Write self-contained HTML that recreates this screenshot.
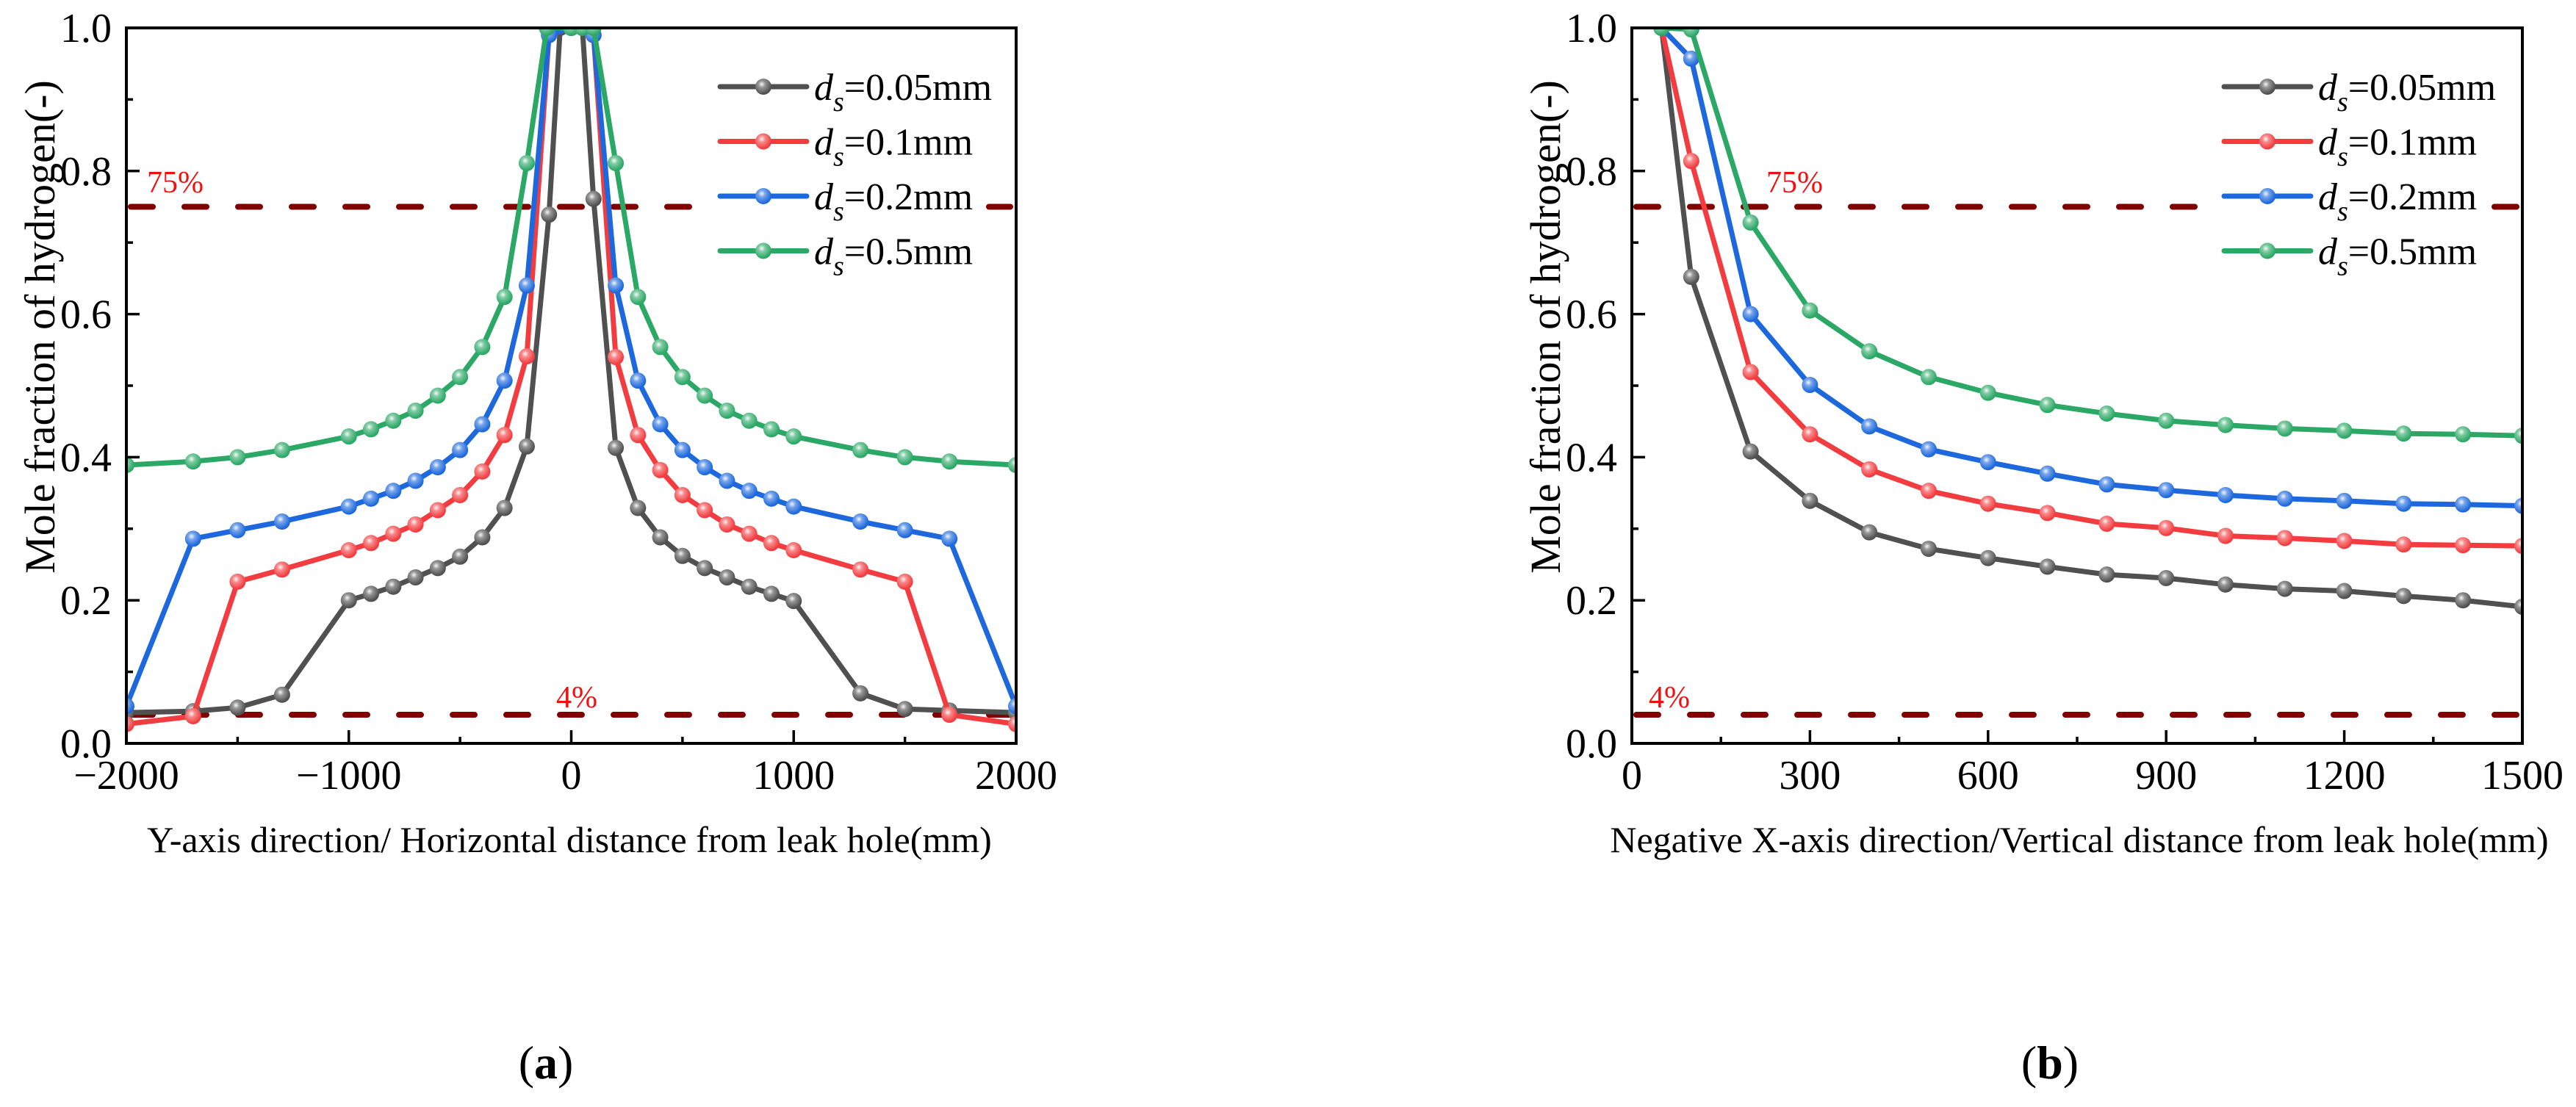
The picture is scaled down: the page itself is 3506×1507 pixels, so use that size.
<!DOCTYPE html>
<html><head><meta charset="utf-8">
<style>
html,body{margin:0;padding:0;background:#fff;}
svg, svg text{font-family:"Liberation Serif","Times New Roman",serif;}
</style></head>
<body>
<svg id="fig" width="3506" height="1502" viewBox="0 0 3506 1502" xmlns="http://www.w3.org/2000/svg" font-family="Liberation Serif, serif">
<defs>
<radialGradient id="hl" cx="0.4" cy="0.35" r="0.6">
<stop offset="0" stop-color="#fff" stop-opacity="0.95"/>
<stop offset="0.35" stop-color="#fff" stop-opacity="0.4"/>
<stop offset="1" stop-color="#fff" stop-opacity="0"/>
</radialGradient>
<clipPath id="clipA"><rect x="172" y="38" width="1211" height="974"/></clipPath>
<clipPath id="clipB"><rect x="2221" y="38" width="1212" height="974"/></clipPath>
</defs>
<g id="panelA"></g>
<g id="panelB"></g>
<text x="743" y="1468" font-size="64" text-anchor="middle">(<tspan font-weight="bold">a</tspan>)</text>
<text x="2790" y="1468" font-size="64" text-anchor="middle">(<tspan font-weight="bold">b</tspan>)</text>
</svg>
<script>
// ---------- data ----------
const seriesNames = ["0.05mm","0.1mm","0.2mm","0.5mm"];
const seriesColors = ["#505050","#f23c3f","#1c68dc","#2ba866"];

const aXBlack = [-2000,-1700,-1500,-1300,-1000,-900,-800,-700,-600,-500,-400,-300,-200,-100,-50,0,50,100,200,300,400,500,600,700,800,900,1000,1300,1500,1700,2000];
const aYBlack = [0.043,0.045,0.05,0.068,0.2,0.209,0.219,0.232,0.245,0.261,0.288,0.329,0.415,0.739,1.0,1.0,1.0,0.761,0.413,0.329,0.288,0.262,0.245,0.232,0.219,0.209,0.199,0.07,0.048,0.046,0.043];
const aXRed = [-2000,-1700,-1500,-1300,-1000,-900,-800,-700,-600,-500,-400,-300,-200,-100,0,100,200,300,400,500,600,700,800,900,1000,1300,1500,1700,2000];
const aYRed = [0.027,0.038,0.226,0.243,0.27,0.28,0.293,0.306,0.326,0.347,0.38,0.431,0.541,0.99,1.0,0.99,0.54,0.431,0.382,0.347,0.326,0.306,0.293,0.28,0.27,0.243,0.226,0.04,0.027];
const aXBlue = [-2000,-1700,-1500,-1300,-1000,-900,-800,-700,-600,-500,-400,-300,-200,-100,0,100,200,300,400,500,600,700,800,900,1000,1300,1500,1700,2000];
const aYBlue = [0.052,0.286,0.298,0.31,0.331,0.342,0.353,0.367,0.386,0.41,0.446,0.507,0.64,0.99,1.0,0.99,0.64,0.507,0.446,0.41,0.386,0.367,0.353,0.342,0.331,0.31,0.298,0.286,0.052];
const aXGreen = [-2000,-1700,-1500,-1300,-1000,-900,-800,-700,-600,-500,-400,-300,-200,-110,0,50,100,200,300,400,500,600,700,800,900,1000,1300,1500,1700,2000];
const aYGreen = [0.389,0.394,0.4,0.41,0.429,0.439,0.451,0.465,0.486,0.512,0.554,0.624,0.811,1.0,1.0,1.0,1.0,0.811,0.624,0.554,0.512,0.486,0.465,0.451,0.439,0.429,0.41,0.4,0.394,0.389];

const bX = [50,100,200,300,400,500,600,700,800,900,1000,1100,1200,1300,1400,1500];
const bYBlack = [1.0,0.652,0.408,0.339,0.295,0.272,0.259,0.247,0.236,0.231,0.222,0.216,0.213,0.206,0.2,0.191];
const bYRed = [1.0,0.814,0.519,0.432,0.383,0.353,0.335,0.322,0.307,0.301,0.29,0.287,0.283,0.278,0.277,0.276];
const bYBlue = [1.0,0.957,0.6,0.501,0.443,0.411,0.393,0.377,0.362,0.354,0.347,0.342,0.339,0.335,0.334,0.332];
const bYGreen = [1.0,0.998,0.728,0.605,0.548,0.512,0.49,0.473,0.461,0.451,0.445,0.44,0.437,0.433,0.432,0.43];

const yTicks = [0,0.2,0.4,0.6,0.8,1.0];
const yTickLabels = ["0.0","0.2","0.4","0.6","0.8","1.0"];
const yMinor = [0.1,0.3,0.5,0.7,0.9];
const aXTicks = [-2000,-1000,0,1000,2000];
const aXTickLabels = ["\u22122000","\u22121000","0","1000","2000"];
const aXMinor = [-1500,-500,500,1500];
const bXTicks = [0,300,600,900,1200,1500];
const bXTickLabels = ["0","300","600","900","1200","1500"];
const bXMinor = [150,450,750,1050,1350];
const thresholds = [0.75,0.04];
const thresholdLabels = ["75%","4%"];

// ---------- drawing ----------
const NS = "http://www.w3.org/2000/svg";
const FF = "Liberation Serif, serif";
function mk(tag, attrs, parent){
  const e = document.createElementNS(NS, tag);
  for (const k in attrs) e.setAttribute(k, attrs[k]);
  if (tag === "text") e.setAttribute("font-family", FF);
  parent.appendChild(e);
  return e;
}

function drawPanel(g, cfg){
  const L=cfg.left, R=cfg.right, T=38, B=1012;
  const sx = v => L + (v - cfg.xmin)/(cfg.xmax - cfg.xmin)*(R-L);
  const sy = v => B - v*(B-T);

  thresholds.forEach((t,i)=>{
    const ln = mk("line",{x1:L+6,x2:R-8,y1:sy(t),y2:sy(t),stroke:"#800000","stroke-width":8,"stroke-dasharray":"30 43","stroke-linecap":"round"},g);
    
    
    const tx = mk("text",{x:cfg.thrLabelX[i],y:cfg.thrLabelY[i],fill:"#ee1111","font-size":42},g);
    tx.textContent = thresholdLabels[i];
    
    
  });

  const lb = mk("rect",{x:cfg.legX-8,y:78,width:cfg.legW,height:310,fill:"#fff"},g);
  
  

  const sg = mk("g",{"clip-path":"url(#"+cfg.clip+")"},g);
  cfg.series.forEach((s,i)=>{
    const pts = s.x.map((xv,j)=>sx(xv).toFixed(1)+","+sy(s.y[j]).toFixed(1)).join(" ");
    const pl = mk("polyline",{points:pts,fill:"none",stroke:seriesColors[i],"stroke-width":7,"stroke-linejoin":"round"},sg);
    
    
    s.x.forEach((xv,j)=>{
      const c = mk("circle",{cx:sx(xv),cy:sy(s.y[j]),r:11,fill:seriesColors[i]},sg);
      
      
      mk("circle",{cx:sx(xv),cy:sy(s.y[j]),r:11,fill:"url(#hl)"},sg);
    });
  });

  seriesNames.forEach((n,i)=>{
    const y = 118 + i*74.5;
    const le = mk("g",{},g);
    
    
    mk("line",{x1:cfg.legX,x2:cfg.legX+118,y1:y,y2:y,stroke:seriesColors[i],"stroke-width":7,"stroke-linecap":"round"},le);
    mk("circle",{cx:cfg.legX+59,cy:y,r:11,fill:seriesColors[i]},le);
    mk("circle",{cx:cfg.legX+59,cy:y,r:11,fill:"url(#hl)"},le);
    const t = mk("text",{x:cfg.legX+128,y:y+18,"font-size":52},le);
    t.innerHTML = '<tspan font-style="italic">d</tspan><tspan font-style="italic" font-size="38" dy="15">s</tspan><tspan dy="-15">='+n+'</tspan>';
  });

  const box = mk("rect",{x:L,y:T,width:R-L,height:B-T,fill:"none",stroke:"#000","stroke-width":4},g);
  
  

  yTicks.forEach((v,i)=>{
    mk("line",{x1:L,x2:L+18,y1:sy(v),y2:sy(v),stroke:"#000","stroke-width":3.5},g);
    const t = mk("text",{x:L-20,y:sy(v)+19,"font-size":56,"text-anchor":"end"},g);
    t.textContent = yTickLabels[i];
    
    
  });
  yMinor.forEach(v=>mk("line",{x1:L,x2:L+9,y1:sy(v),y2:sy(v),stroke:"#000","stroke-width":3.5},g));
  cfg.xt.forEach((v,i)=>{
    mk("line",{x1:sx(v),x2:sx(v),y1:B,y2:B-18,stroke:"#000","stroke-width":3.5},g);
    const t = mk("text",{x:sx(v),y:1074,"font-size":56,"text-anchor":"middle"},g);
    t.textContent = cfg.xtl[i];
    
    
  });
  cfg.xm.forEach(v=>mk("line",{x1:sx(v),x2:sx(v),y1:B,y2:B-9,stroke:"#000","stroke-width":3.5},g));

  const xt = mk("text",{x:cfg.xTitleX,y:1160,"font-size":50,"text-anchor":"middle"},g);
  xt.textContent = cfg.xTitle;
  
  
  const yt = mk("text",{x:0,y:0,"font-size":58,"text-anchor":"middle",transform:"translate("+(L-98)+",445) rotate(-90)"},g);
  yt.textContent = "Mole fraction of hydrogen(-)";
  
  
}

drawPanel(document.getElementById("panelA"),{
  left:172,right:1383,xmin:-2000,xmax:2000,clip:"clipA",
  xt:aXTicks,xtl:aXTickLabels,xm:aXMinor,
  legX:980,legW:350,
  thrLabelX:[200,757],thrLabelY:[262,963],
  xTitle:"Y-axis direction/ Horizontal distance from leak hole(mm)",xTitleX:775,
  series:[{x:aXBlack,y:aYBlack},{x:aXRed,y:aYRed},{x:aXBlue,y:aYBlue},{x:aXGreen,y:aYGreen}]
});
drawPanel(document.getElementById("panelB"),{
  left:2221,right:3433,xmin:0,xmax:1500,clip:"clipB",
  xt:bXTicks,xtl:bXTickLabels,xm:bXMinor,
  legX:3027,legW:352,
  thrLabelX:[2404,2244],thrLabelY:[262,963],
  xTitle:"Negative X-axis direction/Vertical distance from leak hole(mm)",xTitleX:2830,
  series:[{x:bX,y:bYBlack},{x:bX,y:bYRed},{x:bX,y:bYBlue},{x:bX,y:bYGreen}]
});
</script>
</body></html>
